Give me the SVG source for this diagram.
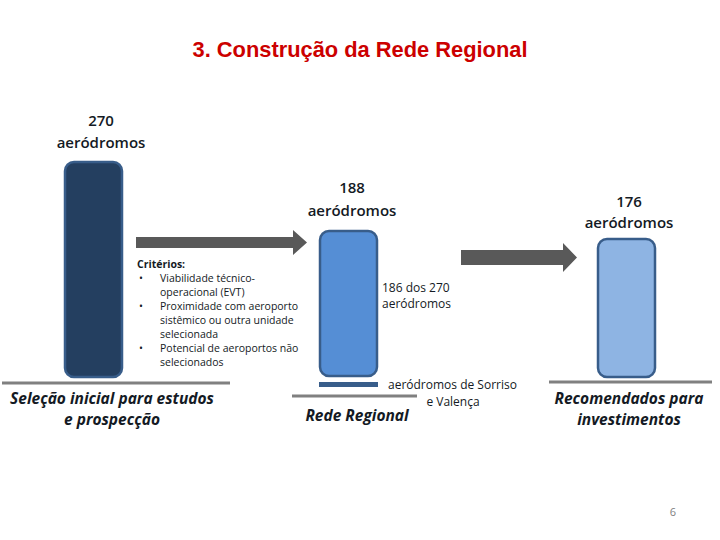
<svg xmlns="http://www.w3.org/2000/svg" width="720" height="540" viewBox="0 0 720 540">
<style>
.t{font-family:"Open Sans","Noto Sans","DejaVu Sans",sans-serif;fill:#141a24}
.num{font-size:15px;font-weight:600;text-anchor:middle}
.cap{font-size:15.5px;font-weight:bold;font-style:italic;text-anchor:middle}
.sm{font-size:10.5px}
.md{font-size:12px}
.bar{stroke:#385D8A;stroke-width:2.5}
.base{stroke:#808080;stroke-width:3}
.arr{fill:#595959}
</style>
<rect width="720" height="540" fill="#fff"/>
<text x="360" y="57" font-family="Liberation Sans,Arial,sans-serif" font-size="22" font-weight="bold" fill="#CC0000" text-anchor="middle" textLength="335" lengthAdjust="spacingAndGlyphs">3. Construção da Rede Regional</text>

<g id="connectors">
<path class="arr" d="M136 237 H293 V230 L307 242.5 L293 255 V248 H136 Z"/>
<path class="arr" d="M461 250 H563 V243 L577 257.5 L563 272 V265 H461 Z"/>
</g>

<g id="node-selecao">
<text class="t num" x="101" y="126">270</text>
<text class="t num" x="101" y="148">aeródromos</text>
<rect class="bar" x="65" y="162" width="57" height="215" rx="9" fill="#243F60"/>
<line class="base" x1="2" y1="383" x2="230" y2="383"/>
<text class="t cap" x="112" y="404">Seleção inicial para estudos</text>
<text class="t cap" x="112" y="425">e prospecção</text>
</g>

<g id="criterios">
<text class="t sm" x="137" y="268" font-weight="bold">Critérios:</text>
<text class="t sm" x="139" y="282">•</text>
<text class="t sm" x="160" y="282">Viabilidade técnico-</text>
<text class="t sm" x="160" y="296">operacional (EVT)</text>
<text class="t sm" x="139" y="310">•</text>
<text class="t sm" x="160" y="310">Proximidade com aeroporto</text>
<text class="t sm" x="160" y="324">sistêmico ou outra unidade</text>
<text class="t sm" x="160" y="338">selecionada</text>
<text class="t sm" x="139" y="352">•</text>
<text class="t sm" x="160" y="352">Potencial de aeroportos não</text>
<text class="t sm" x="160" y="366">selecionados</text>
</g>

<g id="node-rede">
<text class="t num" x="352" y="193">188</text>
<text class="t num" x="352" y="216">aeródromos</text>
<rect class="bar" x="320" y="231" width="57" height="145" rx="9" fill="#558ED5"/>
<rect x="319" y="382" width="59" height="5" fill="#385D8A"/>
<text class="t md" x="382" y="292">186 dos 270</text>
<text class="t md" x="382" y="308">aeródromos</text>
<text class="t md" x="388" y="389">aeródromos de Sorriso</text>
<text class="t md" x="453" y="406" text-anchor="middle">e Valença</text>
<line class="base" x1="292" y1="396" x2="417" y2="396"/>
<text class="t cap" x="357" y="421">Rede Regional</text>
</g>

<g id="node-recomendados">
<text class="t num" x="629" y="207">176</text>
<text class="t num" x="629" y="228">aeródromos</text>
<rect class="bar" x="598" y="239" width="57" height="138" rx="9" fill="#8EB4E3"/>
<line class="base" x1="549" y1="382" x2="712" y2="382"/>
<text class="t cap" x="629" y="404">Recomendados para</text>
<text class="t cap" x="629" y="425">investimentos</text>
</g>

<text x="673" y="516" font-family="Open Sans,sans-serif" font-size="11" fill="#808080" text-anchor="middle">6</text>
</svg>
